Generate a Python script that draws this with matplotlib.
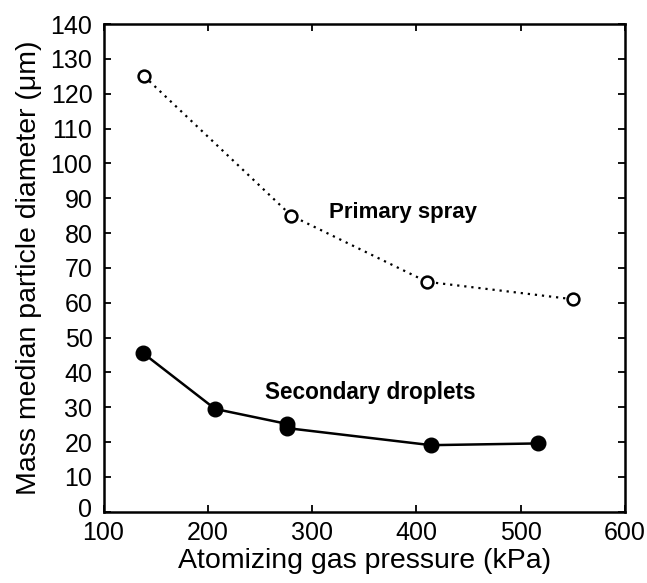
import matplotlib
matplotlib.use("Agg")
import matplotlib.pyplot as plt
from matplotlib.transforms import ScaledTranslation

plt.rcParams["font.family"] = ["Liberation Sans", "DejaVu Sans"]

# ── data ─────────────────────────────────────────────────────────────────────
primary_p = [139, 280, 410, 550]
primary_d = [125, 85, 66, 61]

secondary_p = [138, 207, 276, 276, 414, 517]
secondary_d = [45.5, 29.5, 25.2, 24.0, 19.1, 19.6]

fig = plt.figure(figsize=(6.47, 5.83), dpi=100)
ax = fig.add_axes([0.160, 0.1223, 0.806, 0.8365])

ax.plot(primary_p, primary_d, color="black", linestyle=(0, (1, 2.2)), lw=1.6,
        marker="o", markersize=8.5, markerfacecolor="white",
        markeredgecolor="black", markeredgewidth=1.8)
ax.plot(secondary_p, secondary_d, color="black", lw=1.8,
        marker="o", markersize=10.5, markerfacecolor="black",
        markeredgecolor="black")

ax.text(387, 85.8, "Primary spray", fontsize=16, fontweight="bold",
        ha="center", va="center")
ax.text(356, 34.3, "Secondary droplets", fontsize=16.3, fontweight="bold",
        ha="center", va="center")

ax.set_xlim(100, 600)
ax.set_ylim(0, 140)
ax.set_xticks(range(100, 601, 100))
ax.set_yticks(range(0, 141, 10))
ax.tick_params(direction="in", length=5, width=1.3, top=True, right=True,
               labelsize=18)
ax.tick_params(axis="y", pad=8)
ax.tick_params(axis="x", pad=7)
for s in ax.spines.values():
    s.set_linewidth(1.8)

# lift the "0" a little so it clears the "100" underneath
zero_lbl = ax.get_yticklabels()[0]
zero_lbl.set_transform(zero_lbl.get_transform()
                       + ScaledTranslation(0, 3 / 72, fig.dpi_scale_trans))

ax.set_xlabel("Atomizing gas pressure (kPa)", fontsize=20.5, labelpad=2)
ax.set_ylabel("Mass median particle diameter (\u03bcm)", fontsize=20.5, labelpad=6)

fig.savefig("out.png", dpi=100)
